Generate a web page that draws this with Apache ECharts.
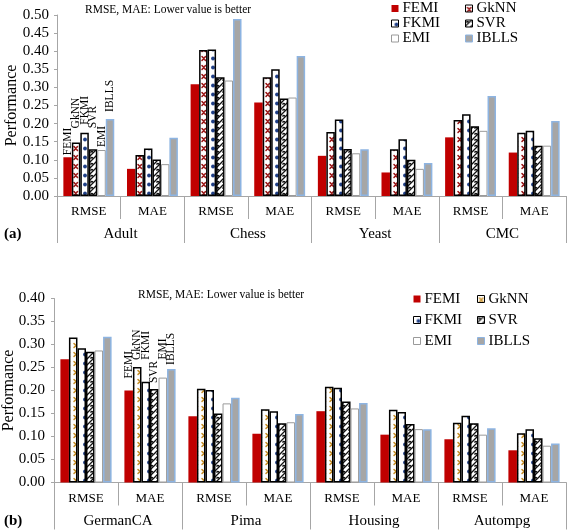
<!DOCTYPE html>
<html>
<head>
<meta charset="utf-8">
<script src="https://cdn.jsdelivr.net/npm/echarts@6/dist/echarts.min.js"></script>
<style>
html,body{margin:0;padding:0;background:#fff;}
#a{position:absolute;left:0;top:0;width:568px;height:260px;}
#b{position:absolute;left:0;top:260px;width:568px;height:272px;}
</style>
</head>
<body>
<div id="a"></div>
<div id="b"></div>
<script>
// ---------- data ----------
const metrics = ['RMSE','MAE','RMSE','MAE','RMSE','MAE','RMSE','MAE'];
const groupsA = ['Adult','Chess','Yeast','CMC'];
const groupsB = ['GermanCA','Pima','Housing','Autompg'];
const seriesNames = ['FEMI','GkNN','FKMI','SVR','EMI','IBLLS'];
const yTicksA = ['0.00','0.05','0.10','0.15','0.20','0.25','0.30','0.35','0.40','0.45','0.50'];
const yTicksB = ['0.00','0.05','0.10','0.15','0.20','0.25','0.30','0.35','0.40'];

const femiA  = [0.107, 0.075, 0.309, 0.258, 0.111, 0.065, 0.162, 0.120];
const gknnA  = [0.148, 0.113, 0.403, 0.328, 0.177, 0.129, 0.210, 0.175];
const fkmiA  = [0.175, 0.131, 0.405, 0.350, 0.211, 0.157, 0.226, 0.180];
const svrA   = [0.129, 0.101, 0.328, 0.269, 0.130, 0.100, 0.193, 0.139];
const emiA   = [0.127, 0.088, 0.319, 0.272, 0.118, 0.075, 0.180, 0.139];
const ibllsA = [0.213, 0.161, 0.489, 0.387, 0.129, 0.091, 0.276, 0.207];

const femiB  = [0.268, 0.200, 0.144, 0.106, 0.155, 0.104, 0.094, 0.070];
const gknnB  = [0.315, 0.251, 0.204, 0.159, 0.208, 0.158, 0.130, 0.107];
const fkmiB  = [0.292, 0.219, 0.201, 0.155, 0.206, 0.153, 0.145, 0.116];
const svrB   = [0.284, 0.203, 0.150, 0.129, 0.176, 0.127, 0.129, 0.096];
const emiB   = [0.287, 0.228, 0.172, 0.131, 0.161, 0.116, 0.104, 0.080];
const ibllsB = [0.317, 0.247, 0.184, 0.149, 0.173, 0.116, 0.118, 0.085];

const titleText = 'RMSE, MAE: Lower value is better';

// ---------- styling ----------
const FONT = "'Liberation Serif','Times New Roman',serif";
const AXIS_GREY = '#a6a6a6';

function tile(w, h, draw) {
  const c = document.createElement('canvas');
  c.width = w; c.height = h;
  const g = c.getContext('2d');
  g.fillStyle = '#fff'; g.fillRect(0, 0, w, h);
  draw(g);
  return {image: c, repeat: 'repeat'};
}
function crossPattern(color) {
  return tile(8, 9, g => {
    g.strokeStyle = color; g.lineWidth = 1.6; g.lineCap = 'round';
    g.beginPath();
    g.moveTo(2, 2.5); g.lineTo(5.5, 6.5);
    g.moveTo(5.5, 2.5); g.lineTo(2, 6.5);
    g.stroke();
  });
}
function dotPattern(color) {
  return tile(8, 9, g => {
    g.fillStyle = color;
    g.beginPath(); g.arc(5, 4.5, 1.9, 0, Math.PI * 2); g.fill();
  });
}
function wavePattern() {
  return tile(6, 6, g => {
    g.strokeStyle = '#111'; g.lineWidth = 1.3;
    g.beginPath();
    g.moveTo(-1, 7); g.lineTo(7, -1);
    g.moveTo(-1, 1); g.lineTo(1, -1);
    g.moveTo(5, 7); g.lineTo(7, 5);
    g.stroke();
    g.beginPath();
    g.moveTo(0.5, 2.5); g.quadraticCurveTo(2, 0.5, 3, 2.5);
    g.stroke();
  });
}

function seriesStyles(crossColor) {
  return [
    {color: '#c00000'},
    {color: crossPattern(crossColor), borderColor: '#000', borderWidth: 1.5},
    {color: dotPattern('#1f3f86'), borderColor: '#000', borderWidth: 1.5},
    {color: wavePattern(), borderColor: '#000', borderWidth: 1.5},
    {color: '#ffffff', borderColor: '#9a9a9a', borderWidth: 1},
    {color: '#a6a6a6', borderColor: '#8db4e2', borderWidth: 1.5}
  ];
}

function buildOption(cfg) {
  const styles = seriesStyles(cfg.crossColor);
  const series = cfg.values.map((vals, si) => ({
    name: seriesNames[si],
    type: 'bar',
    barGap: '0%',
    barCategoryGap: '20%',
    itemStyle: styles[si],
    emphasis: {disabled: true},
    data: vals.map((v, i) => i === cfg.labelIndex ? {
      value: v,
      label: {
        show: true, formatter: seriesNames[si], position: 'top',
        distance: cfg.labelDist[si], rotate: 90, align: 'left', verticalAlign: 'middle',
        fontFamily: FONT, fontSize: 11.5, color: '#000'
      }
    } : v)
  }));
  const legendCommon = {
    orient: 'vertical', itemWidth: 7, itemHeight: 7, itemGap: cfg.legendGap,
    icon: 'rect', selectedMode: false,
    textStyle: {fontFamily: FONT, fontSize: 15, color: '#000', lineHeight: 15, padding: [0,0,0,-1]},
    itemStyle: {borderWidth: 1}
  };
  return {
    animation: false,
    textStyle: {fontFamily: FONT},
    title: {
      text: titleText, left: cfg.titleLeft, top: cfg.titleTop, padding: 0,
      textStyle: {fontFamily: FONT, fontSize: 11.5, fontWeight: 'normal', color: '#000'}
    },
    legend: [
      Object.assign({data: ['FEMI','FKMI','EMI'], left: cfg.legendLeft[0], top: cfg.legendTop, padding: 0}, legendCommon),
      Object.assign({data: ['GkNN','SVR','IBLLS'], left: cfg.legendLeft[1], top: cfg.legendTop, padding: 0}, legendCommon)
    ],
    grid: {
      left: cfg.grid.left, right: cfg.grid.right, top: cfg.grid.top, height: cfg.grid.height,
      containLabel: false, outerBoundsMode: 'none'
    },
    xAxis: [
      {
        type: 'category', data: metrics, position: 'bottom',
        axisLine: {lineStyle: {color: AXIS_GREY, width: 1}},
        axisTick: {show: true, interval: 0, length: cfg.innerTick, lineStyle: {color: AXIS_GREY}},
        axisLabel: {interval: 0, margin: cfg.innerMargin, fontFamily: FONT, fontSize: 13, color: '#000'}
      },
      {
        type: 'category', data: cfg.groups, position: 'bottom',
        axisLine: {show: false},
        axisTick: {show: true, interval: 0, length: cfg.outerTick, lineStyle: {color: AXIS_GREY}},
        axisLabel: {interval: 0, margin: cfg.outerMargin, fontFamily: FONT, fontSize: 15, color: '#000'}
      }
    ],
    yAxis: {
      type: 'value', min: 0, max: cfg.ymax, interval: 0.05,
      name: 'Performance', nameLocation: 'middle', nameGap: 37, nameMoveOverlap: false,
      nameTextStyle: {fontFamily: FONT, fontSize: 16, color: '#000'},
      axisLine: {show: true, lineStyle: {color: AXIS_GREY}},
      axisTick: {show: true, length: 3, lineStyle: {color: AXIS_GREY}},
      splitLine: {show: false},
      axisLabel: {
        margin: cfg.yMargin, fontFamily: FONT, fontSize: 15, color: '#000',
        formatter: (v) => cfg.yTicks[Math.round(v / 0.05)]
      }
    },
    graphic: [{
      type: 'text', left: 4, top: cfg.tagTop,
      style: {text: cfg.tag, font: 'bold 15px ' + FONT, fill: '#000'}
    }],
    series: series
  };
}

const chartA = echarts.init(document.getElementById('a'), null, {renderer: 'canvas'});
chartA.setOption(buildOption({
  values: [femiA, gknnA, fkmiA, svrA, emiA, ibllsA],
  groups: groupsA, yTicks: yTicksA, ymax: 0.5,
  crossColor: '#9b1a1a',
  labelIndex: 0, labelDist: [2, 14, 8, 21, 3, 7],
  grid: {left: 57, right: 2, top: 15, height: 181},
  innerTick: 23, outerTick: 47, innerMargin: 9, outerMargin: 31, yMargin: 8,
  titleLeft: 85, titleTop: 4,
  legendLeft: [391, 465], legendTop: 1, legendGap: 0,
  tag: '(a)', tagTop: 227
}));

const chartB = echarts.init(document.getElementById('b'), null, {renderer: 'canvas'});
chartB.setOption(buildOption({
  values: [femiB, gknnB, fkmiB, svrB, emiB, ibllsB],
  groups: groupsB, yTicks: yTicksB, ymax: 0.4,
  crossColor: '#c8922e',
  labelIndex: 1, labelDist: [12, 7, 22, 6, 18, 4],
  grid: {left: 54, right: 2, top: 38.5, height: 184},
  innerTick: 23, outerTick: 47, innerMargin: 10, outerMargin: 31, yMargin: 9,
  titleLeft: 138, titleTop: 29,
  legendLeft: [413, 477], legendTop: 31.5, legendGap: 6,
  tag: '(b)', tagTop: 254
}));
</script>
</body>
</html>
